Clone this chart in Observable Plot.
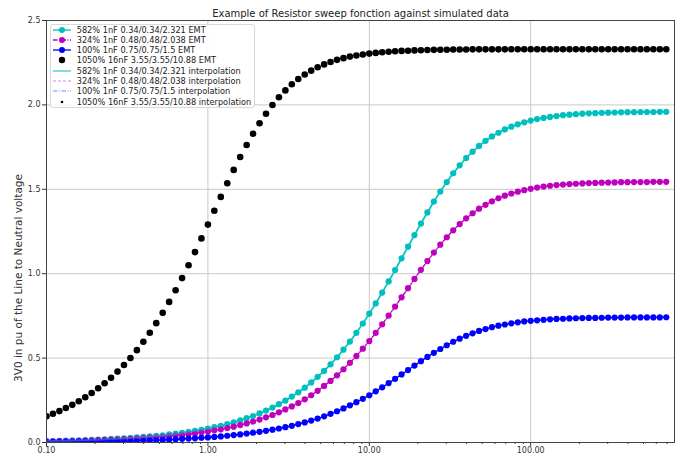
<!DOCTYPE html>
<html><head><meta charset="utf-8">
<script src="https://cdn.jsdelivr.net/npm/d3@7"></script>
<script src="https://cdn.jsdelivr.net/npm/@observablehq/plot@0.6"></script>
<style>
body{margin:0;background:#fff;}
#wrap{position:relative;width:677px;height:456px;font-family:"DejaVu Sans",sans-serif;}
#legend{position:absolute;left:50px;top:24px;width:203px;height:82px;border:1px solid #d9d9d9;border-radius:3px;background:rgba(255,255,255,0.85);}
.row{position:absolute;left:0;height:10px;width:203px;font-size:8.2px;line-height:10px;color:#222;white-space:nowrap}
.row svg{position:absolute;left:1px;top:0}
.row span{position:absolute;left:25.7px;top:0}
#ylabel{position:absolute;left:18px;top:278px;width:0;height:0;}
#ylabel span{position:absolute;left:0;top:0;transform:translate(-50%,-50%) rotate(-90deg);white-space:nowrap;font-size:10.5px;line-height:12px;color:#333;}
</style></head><body><div id="wrap"></div>
<script>
const title = "Example of Resistor sweep fonction against simulated data";
const yLabel = "3V0 in pu of the Line to Neutral voltage";
const xMajorTicks = [0.1, 1, 10, 100];
const xMinorTicks = [0.2,0.3,0.4,0.5,0.6,0.7,0.8,0.9,2,3,4,5,6,7,8,9,20,30,40,50,60,70,80,90,200,300,400,500,600,700];
const yTicks = [0, 0.5, 1.0, 1.5, 2.0, 2.5];

const resistance = [0.1,0.1096,0.1202,0.1318,0.1445,0.1585,0.1738,0.1905,0.2089,0.2291,0.2512,0.2754,0.302,0.3311,0.3631,0.3981,0.4365,0.4786,0.5248,0.5754,0.631,0.6918,0.7586,0.8318,0.912,
1,1.096,1.202,1.318,1.445,1.585,1.738,1.905,2.089,2.291,2.512,2.754,3.02,3.311,3.631,3.981,4.365,4.786,5.248,5.754,6.31,6.918,7.586,8.318,9.12,
10,10.96,12.02,13.18,14.45,15.85,17.38,19.05,20.89,22.91,25.12,27.54,30.2,33.11,36.31,39.81,43.65,47.86,52.48,57.54,63.1,69.18,75.86,83.18,91.2,
100,109.6,120.2,131.8,144.5,158.5,173.8,190.5,208.9,229.1,251.2,275.4,302,331.1,363.1,398.1,436.5,478.6,524.8,575.4,631,691.8];

const emt582 = [0.008,0.009,0.010,0.011,0.012,0.013,0.014,0.016,0.017,0.019,0.021,0.023,0.025,0.027,0.030,0.033,0.036,0.040,0.043,0.048,0.052,0.057,0.063,0.069,0.075,
0.083,0.091,0.099,0.109,0.119,0.131,0.144,0.157,0.172,0.189,0.207,0.227,0.248,0.272,0.297,0.325,0.356,0.389,0.424,0.463,0.505,0.550,0.598,0.650,0.705,
0.763,0.824,0.888,0.954,1.022,1.091,1.160,1.229,1.297,1.363,1.427,1.487,1.543,1.595,1.642,1.685,1.723,1.757,1.787,1.813,1.835,1.855,1.871,1.885,1.897,
1.907,1.916,1.923,1.929,1.934,1.939,1.942,1.945,1.948,1.950,1.951,1.953,1.954,1.955,1.956,1.957,1.957,1.958,1.958,1.958,1.959,1.959];

const emt324 = [0.007,0.007,0.008,0.009,0.009,0.010,0.011,0.012,0.014,0.015,0.016,0.018,0.020,0.022,0.024,0.026,0.029,0.031,0.034,0.038,0.041,0.045,0.050,0.054,0.060,
0.065,0.072,0.078,0.086,0.094,0.103,0.113,0.124,0.136,0.149,0.163,0.179,0.196,0.214,0.234,0.256,0.280,0.306,0.335,0.365,0.398,0.434,0.472,0.512,0.556,
0.601,0.650,0.700,0.752,0.805,0.860,0.914,0.969,1.023,1.075,1.125,1.172,1.216,1.257,1.294,1.328,1.358,1.385,1.408,1.429,1.447,1.462,1.475,1.486,1.495,
1.503,1.510,1.516,1.521,1.525,1.528,1.531,1.533,1.535,1.537,1.538,1.539,1.540,1.541,1.542,1.542,1.543,1.543,1.543,1.544,1.544,1.544];

const emt100 = [0.003,0.003,0.004,0.004,0.004,0.005,0.005,0.006,0.006,0.007,0.008,0.008,0.009,0.010,0.011,0.012,0.013,0.014,0.016,0.017,0.019,0.021,0.023,0.025,0.028,
0.030,0.033,0.036,0.040,0.044,0.048,0.053,0.058,0.063,0.069,0.076,0.083,0.091,0.099,0.109,0.119,0.130,0.142,0.155,0.170,0.185,0.202,0.220,0.239,0.259,
0.280,0.303,0.327,0.352,0.377,0.403,0.429,0.456,0.482,0.507,0.531,0.554,0.576,0.597,0.615,0.632,0.647,0.661,0.672,0.683,0.692,0.699,0.706,0.712,0.717,
0.721,0.724,0.727,0.730,0.732,0.733,0.735,0.736,0.737,0.738,0.738,0.739,0.740,0.740,0.740,0.741,0.741,0.741,0.741,0.741,0.741,0.742];

const emt1050 = [0.155,0.170,0.186,0.204,0.223,0.244,0.268,0.293,0.321,0.351,0.384,0.420,0.459,0.501,0.547,0.597,0.650,0.707,0.768,0.833,0.902,0.974,1.050,1.128,1.209,
1.291,1.373,1.455,1.536,1.615,1.691,1.762,1.829,1.891,1.948,1.999,2.045,2.086,2.122,2.153,2.180,2.203,2.223,2.240,2.254,2.267,2.277,2.286,2.293,2.299,
2.304,2.308,2.312,2.315,2.318,2.320,2.321,2.323,2.324,2.325,2.326,2.327,2.327,2.328,2.328,2.328,2.329,2.329,2.329,2.329,2.329,2.329,2.330,2.330,2.330,
2.330,2.330,2.330,2.330,2.330,2.330,2.330,2.330,2.330,2.330,2.330,2.330,2.330,2.330,2.330,2.330,2.330,2.330,2.330,2.330,2.330,2.330];

// interpolation results coincide with the EMT points at this scale
const interp582 = emt582, interp324 = emt324, interp100 = emt100, interp1050 = emt1050;

const seriesLabels = [
  "582% 1nF 0.34/0.34/2.321 EMT",
  "324% 1nF 0.48/0.48/2.038 EMT",
  "100% 1nF 0.75/0.75/1.5 EMT",
  "1050% 16nF 3.55/3.55/10.88 EMT",
  "582% 1nF 0.34/0.34/2.321 interpolation",
  "324% 1nF 0.48/0.48/2.038 interpolation",
  "100% 1nF 0.75/0.75/1.5 interpolation",
  "1050% 16nF 3.55/3.55/10.88 interpolation"
];

const C = "#00bfbf", M = "#bf00bf", B = "#0000ff", K = "#000000";
const DASHDOT = "4.5,1.5,1,1.5";
const rows = ys => resistance.map((x, i) => ({x, y: ys[i]}));

const chart = Plot.plot({
  width: 677, height: 456,
  marginLeft: 46, marginRight: 3, marginTop: 20, marginBottom: 14,
  x: {type: "log", domain: [0.1, 778]},
  y: {domain: [0, 2.5]},
  style: {fontFamily: "DejaVu Sans, sans-serif", fontSize: "8px", color: "#333", background: "#fff"},
  marks: [
    Plot.gridX(xMajorTicks, {stroke: "#c9c9c9", strokeOpacity: 1, strokeWidth: 1}),
    Plot.gridY(yTicks, {stroke: "#c9c9c9", strokeOpacity: 1, strokeWidth: 1}),
    Plot.line(rows(emt582), {x: "x", y: "y", stroke: C, strokeWidth: 1.3, clip: true}),
    Plot.dot(rows(emt582), {x: "x", y: "y", fill: C, r: 3.1, clip: true}),
    Plot.line(rows(emt324), {x: "x", y: "y", stroke: M, strokeWidth: 1.3, strokeDasharray: DASHDOT, clip: true}),
    Plot.dot(rows(emt324), {x: "x", y: "y", fill: M, r: 3.1, clip: true}),
    Plot.line(rows(emt100), {x: "x", y: "y", stroke: B, strokeWidth: 1.3, clip: true}),
    Plot.dot(rows(emt100), {x: "x", y: "y", fill: B, r: 3.1, clip: true}),
    Plot.dot(rows(emt1050), {x: "x", y: "y", fill: K, r: 3.3, clip: true}),
    Plot.line(rows(interp582), {x: "x", y: "y", stroke: C, strokeOpacity: 0.5, strokeWidth: 2, clip: true}),
    Plot.line(rows(interp324), {x: "x", y: "y", stroke: M, strokeOpacity: 0.5, strokeWidth: 1, strokeDasharray: "3,2", clip: true}),
    Plot.line(rows(interp100), {x: "x", y: "y", stroke: B, strokeOpacity: 0.5, strokeWidth: 1, strokeDasharray: DASHDOT, clip: true}),
    Plot.dot(rows(interp1050), {x: "x", y: "y", fill: K, r: 1.3, clip: true}),
    Plot.axisX({ticks: xMajorTicks, tickFormat: d3.format(".2f"), tickSize: 4, tickPadding: 1, label: null, fontSize: 8}),
    Plot.axisX({ticks: xMinorTicks, tickFormat: () => "", tickSize: 2, label: null}),
    Plot.axisY({ticks: yTicks, tickFormat: d3.format(".1f"), tickSize: 4, tickPadding: 2, label: null, fontSize: 8}),
    Plot.frame({stroke: "#444", strokeWidth: 1}),
    Plot.text([title], {text: d => d, frameAnchor: "top", lineAnchor: "bottom", dy: -4, fontSize: 10, fill: "#222"})
  ]
});
const wrap = document.getElementById("wrap");
wrap.appendChild(chart);

// y-axis label
const yl = document.createElement("div");
yl.id = "ylabel";
yl.innerHTML = `<span>${yLabel}</span>`;
wrap.appendChild(yl);

// legend
const legendStyles = [
  {color: C, dash: null, width: 1.3, opacity: 1, marker: 3},
  {color: M, dash: DASHDOT, width: 1.3, opacity: 1, marker: 3},
  {color: B, dash: null, width: 1.3, opacity: 1, marker: 3},
  {color: K, dash: null, width: 0, opacity: 1, marker: 3.2},
  {color: C, dash: null, width: 2, opacity: 0.5, marker: 0},
  {color: M, dash: "3,2", width: 1, opacity: 0.5, marker: 0},
  {color: B, dash: DASHDOT, width: 1, opacity: 0.5, marker: 0},
  {color: K, dash: null, width: 0, opacity: 1, marker: 1.3}
];
const legend = document.createElement("div");
legend.id = "legend";
seriesLabels.forEach((lab, i) => {
  const s = legendStyles[i];
  const row = document.createElement("div");
  row.className = "row";
  row.style.top = (-0.5 + 10.3 * i) + "px";
  let svg = `<svg width="22" height="10">`;
  if (s.width > 0) svg += `<line x1="1" x2="19" y1="5" y2="5" stroke="${s.color}" stroke-width="${s.width}" stroke-opacity="${s.opacity}" ${s.dash ? `stroke-dasharray="${s.dash}"` : ""}/>`;
  if (s.marker > 0) svg += `<circle cx="10" cy="5" r="${s.marker}" fill="${s.color}"/>`;
  svg += `</svg>`;
  row.innerHTML = svg + `<span>${lab}</span>`;
  legend.appendChild(row);
});
wrap.appendChild(legend);
</script>
</body></html>
